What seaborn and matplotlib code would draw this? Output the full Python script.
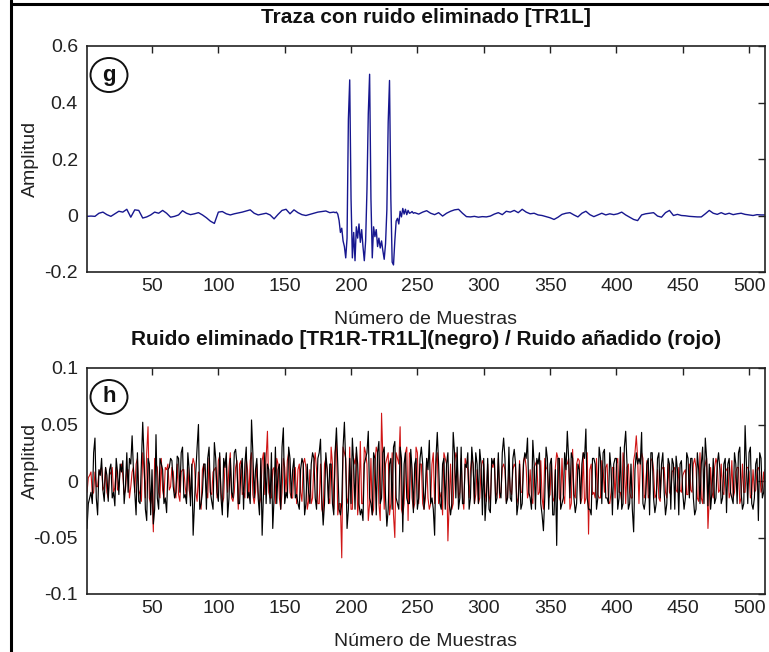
import numpy as np
import pandas as pd
import matplotlib
matplotlib.use("Agg")
import matplotlib.pyplot as plt
import seaborn as sns
from matplotlib.patches import Ellipse
from matplotlib.lines import Line2D

# ---------------- data (amplitudes in thousandths) ----------------
left_samples = list(range(1, 188, 3))
left_milli = [-3, -2, -3, 8, 12, 3, -3, 6, 15, 12, 22, -6, 20, 18, -9, -5, 2, 12, 8, 18,
              8, -6, -3, 2, 17, 8, 3, 6, 10, 2, -8, -20, -28, 12, 14, 6, 2, 6, 9, 12,
              16, 20, 8, 2, 5, 8, 2, -12, 4, 18, 22, 6, 20, 10, 3, 0, 4, 8, 12, 14,
              16, 10, 12]
burst_samples = list(range(188, 248))
burst_milli = [10, 12, 5, -18, -60, -45, -90, -110, -150, -80, 340, 480, 60, -150, -60, -160, -40, -80, -30, -95,
               -50, -110, -160, -90, 90, 360, 500, 60, -150, -40, -75, -50, -110, -80, -115, -90, -125, -155, -100, 20,
               330, 478, 60, -165, -175, -90, -20, -10, -30, 15, -5, 25, 5, 22, 3, 18, 8, 10, 14, 8]
right_samples = list(range(248, 513, 3))
right_milli = [10, 5, 12, 17, 8, 3, 10, -2, 8, 15, 20, 22, 8, -4, -5, -3, -6, -4, -5, -2,
               5, 10, 3, 15, 12, 18, 10, 22, 12, 6, 8, 2, 0, -4, -8, -14, -6, 4, 8, 10,
               2, -5, 8, 15, 3, -4, 2, 8, 2, 6, 3, 6, 12, 2, -6, -14, -18, 2, 6, 8,
               10, -2, -6, 10, 18, 0, 4, 0, -1, -3, -4, -5, -5, 6, 18, 8, 4, 10, 4, 8,
               3, 6, 8, 4, 2, 0, 3, 2, 2]

odd_samples = list(range(1, 512, 2))
even_samples = list(range(2, 513, 2))
black_odd_milli = [
    -42, -15, -20, 38, -30, 5, -8, 12, -18, 15, -10, 20, -12, 8, -20, 25,
    20, 40, -10, 25, -20, 52, -25, 20, -30, -38, 41, -25, 15, -20, -28, 12,
    18, -15, 22, -10, 30, -12, 25, -22, -48, 8, 50, -20, 15, -25, 30, -18,
    34, -10, 25, -30, 12, -32, 20, -15, 28, -20, 10, -25, 30, -10, 54, -15,
    20, -30, -48, 25, 15, -20, -42, 30, 10, -25, 47, -10, 30, -15, 20, -12,
    -25, 20, -30, 15, -20, 25, -15, 20, 37, -39, 25, -20, 15, -30, 47, -25,
    -20, 52, -42, 20, 38, -25, 15, -30, -35, 20, 44, -20, 25, -30, 35, -15,
    30, -40, 15, -25, 35, -20, 30, -45, 25, -20, 28, -28, 20, -15, 30, -25,
    20, 36, -15, -48, 43, -20, 15, -25, 25, -30, 43, -15, -25, 30, -20, 12,
    -25, 30, -20, 15, 28, -30, -35, 20, -28, 15, -20, 25, -15, 38, -20, 30,
    -18, 28, -30, 15, -20, 25, 38, -15, 36, -25, 15, -20, -44, 30, -25, 20,
    -30, -57, 20, -20, 25, 44, -15, 20, -28, 15, -20, 25, 46, -25, -30, 20,
    -25, 30, -20, 28, -15, 25, -30, 20, -25, 30, -20, 44, -25, 15, -45, 25,
    20, 43, -25, 15, -30, 25, -28, 20, -15, 25, -30, 20, -25, 15, 22, -30,
    18, -25, 25, -15, 20, -30, 25, -20, 30, 38, -22, -25, 20, -15, 25, -20,
    15, -28, 20, -15, 25, -20, 30, -25, 49, -20, 30, -25, 15, -35, 20, -10]
black_even_milli = [
    -20, -10, 25, -15, 10, 20, -18, 5, 10, -15, -22, 8, 15, 18, -5, -10,
    15, 10, -30, -18, 15, 20, -35, 15, 10, -25, -15, 20, 10, -15, 10, 20,
    -5, -10, 20, 25, -15, -20, 10, 15, -20, 30, -25, -10, 15, 20, -10, -25,
    20, -18, -15, 20, 25, -15, -10, 25, 15, -20, 20, 15, -15, -20, 25, 10,
    -15, 20, -10, -20, 10, 25, -15, -20, 15, 30, -20, -15, 20, 10, -15, -20,
    10, 15, -20, -10, 15, 20, -25, 25, -15, -20, 10, 15, -20, 25, 15, -30,
    30, 15, -25, -20, 15, 30, -20, -25, 15, 25, -15, -30, 20, 25, -20, 25,
    -15, -25, 20, 30, -15, -25, 20, 15, -15, -20, 10, 15, -25, 20, 15, -10,
    10, -20, -25, 20, 15, -25, 20, 15, -20, -20, 25, 30, -15, -20, 15, 25,
    -15, 15, 25, -20, 15, 20, -15, -25, 20, 20, -15, -10, 25, 20, -15, -15,
    20, 15, -20, -25, 15, 20, -10, -25, 15, 20, 25, -30, -15, 20, 15, -30,
    10, 20, -25, -15, 10, 20, 25, -15, -20, 10, 15, 20, -15, -25, 20, 15,
    -15, 20, 25, -15, -20, 10, 15, 20, -15, -25, 30, 15, -20, -25, 10, 15,
    15, -20, -15, 20, 25, -15, -20, 25, 15, -10, -20, 15, 20, -25, 10, 15,
    -10, -15, 20, 20, -15, -25, 10, 15, -20, 20, 15, -10, -20, 15, 10, -15,
    20, 15, -10, -20, 15, 25, -10, -20, 15, 25, -20, -15, 20, 25, -15, 10]
red_odd_milli = [
    -10, 5, -12, 8, -5, 10, -8, 12, -15, 6, -10, 12, -5, 15, -12, 10,
    -15, 8, -10, 20, -12, 25, -15, 48, -20, -45, 15, -10, 20, -15, 10, -8,
    12, -10, 15, -18, 10, -5, 12, -15, 20, -10, 8, -25, 15, -10, 20, -12,
    10, -15, 22, -20, 15, -10, 25, -18, 12, -25, 18, -10, 20, -15, 25, -20,
    15, -20, 18, -12, 44, -15, 10, -20, 15, -25, 20, -10, 25, -15, 10, -20,
    15, -18, 20, -25, 10, -15, 25, -20, 15, -30, 20, -15, 30, -25, 35, -20,
    -68, 25, -20, 30, -25, 15, -30, 35, -20, 25, -35, 20, -25, 30, -20, 60,
    -25, 20, -30, 25, -50, 20, 48, -30, 25, -35, 20, -25, 30, -20, 15, -25,
    20, -25, 15, -20, 25, -15, -30, 20, -53, 15, -20, 25, -15, 20, -25, 15,
    -15, 20, -20, 10, -15, 18, -10, 15, -20, 12, -15, 20, -10, 15, -18, 12,
    -12, 15, -20, 18, -10, 22, -15, 10, -20, 15, -12, 18, -25, 12, -15, 20,
    -18, 25, -15, 20, -20, 15, -25, 28, -15, 20, -20, 25, -15, -47, 15, -10,
    20, -15, 18, -10, 15, -20, 12, -15, 20, -10, 25, -20, 15, -15, 18, 40,
    -20, 25, -15, 18, -12, 20, -15, 10, -18, 12, -10, 15, -12, 10, -8, 12,
    -10, 8, -12, 15, -10, 20, -15, 25, -20, 15, -42, 12, -15, 20, -10, 15,
    -12, 10, -15, 18, -10, 12, -20, 15, -10, 12, -15, 10, -8, 12, -10, 8]
red_even_milli = [
    3, 8, -10, -5, 8, 12, -5, -10, 8, 12, -6, -8, 10, 5, -8, 10,
    -5, 12, 15, -8, -18, 10, 25, -15, -10, 20, 12, -15, -8, 12, 15, -5,
    8, -15, -12, 8, 10, -15, -8, 12, 15, -18, -20, 10, 8, -15, -10, 8,
    12, 18, -10, -15, 20, 12, -15, -10, 18, 15, -12, -15, 10, 18, -12, -10,
    -10, -15, 25, 20, -10, -15, 12, 20, -15, -10, 12, 18, -10, -15, 12, 10,
    -10, 15, 12, -18, -20, 15, 10, -20, -25, 15, 10, -20, 15, 25, -30, -20,
    30, 20, -15, -25, 20, 25, -15, -20, 30, 15, -20, -30, 15, 25, -35, 20,
    15, 25, -20, -30, 25, 15, -25, -20, 30, 25, -15, -20, 25, 15, -20, -15,
    -15, -20, 25, 15, -20, -10, 25, 15, -20, -25, 15, 20, -10, -15, 20, 10,
    10, 15, -12, -20, 10, 15, -18, -12, 15, 20, -10, -15, 12, 10, -15, -8,
    10, 12, -15, -10, 18, 12, -10, -15, 12, 18, -10, -15, 20, 10, -12, -15,
    12, 20, -18, -12, 15, 20, -20, -12, 15, 18, -15, -20, 25, 10, -12, -15,
    -12, -15, 10, 12, -18, -10, 12, 15, -10, -18, 15, 12, -10, -15, 25, 20,
    15, 20, -12, -15, 18, 10, -12, -15, 10, 12, -15, -10, 8, 12, -10, -8,
    5, 10, -12, -8, 15, 12, -18, -15, 10, 20, -15, -10, 12, 15, -8, -10,
    8, 12, -10, -15, 8, 12, -15, -10, 12, 8, -12, -10, 10, 8, -6, -5]

x_ticks = [50, 100, 150, 200, 250, 300, 350, 400, 450, 500]
top_yticks = [-0.2, 0, 0.2, 0.4, 0.6]
top_yticklabels = ["-0.2", "0", "0.2", "0.4", "0.6"]
bot_yticks = [-0.1, -0.05, 0, 0.05, 0.1]
bot_yticklabels = ["-0.1", "-0.05", "0", "0.05", "0.1"]

title_top = "Traza con ruido eliminado [TR1L]"
title_bot = "Ruido eliminado [TR1R-TR1L](negro) / Ruido añadido (rojo)"
xlabel = "Número de Muestras"
ylabel = "Amplitud"

# ---------------- frames ----------------
top_df = pd.DataFrame({
    "sample": left_samples + burst_samples + right_samples,
    "amp": np.array(left_milli + burst_milli + right_milli) / 1000.0,
})
noise_df = pd.DataFrame({
    "sample": odd_samples + even_samples,
    "black": np.array(black_odd_milli + black_even_milli) / 1000.0,
    "red": np.array(red_odd_milli + red_even_milli) / 1000.0,
}).sort_values("sample").reset_index(drop=True)

# ---------------- style ----------------
sns.set_style("white")
plt.rcParams["font.family"] = ["Liberation Sans", "DejaVu Sans"]

W, H = 769, 652
fig = plt.figure(figsize=(W / 100, H / 100), dpi=100)
fig.patch.set_facecolor("white")

def fx(px):
    return px / W

def fy(py):
    return 1 - py / H

ax1 = fig.add_axes([fx(87), fy(272), fx(765) - fx(87), fy(46) - fy(272)])
ax2 = fig.add_axes([fx(87), fy(594), fx(765) - fx(87), fy(368) - fy(594)])

sns.lineplot(data=top_df, x="sample", y="amp", ax=ax1, color="#17178f",
             linewidth=1.0, estimator=None, sort=False)
sns.lineplot(data=noise_df, x="sample", y="red", ax=ax2, color="#d01515",
             linewidth=0.8, estimator=None, sort=False)
sns.lineplot(data=noise_df, x="sample", y="black", ax=ax2, color="#000000",
             linewidth=0.85, estimator=None, sort=False)

for ax, yt, ytl, ylim, title, ylab_y in [
        (ax1, top_yticks, top_yticklabels, (-0.2, 0.6), title_top, 0.5),
        (ax2, bot_yticks, bot_yticklabels, (-0.1, 0.1), title_bot, 0.59)]:
    ax.set_xlim(1, 512)
    ax.set_ylim(*ylim)
    ax.set_xticks(x_ticks)
    ax.set_xticklabels([str(t) for t in x_ticks])
    ax.set_yticks(yt)
    ax.set_yticklabels(ytl)
    ax.tick_params(axis="both", direction="in", length=5, width=1.0,
                   colors="#222222", labelsize=14, top=True, right=True)
    ax.tick_params(axis="x", pad=4.5)
    ax.tick_params(axis="y", pad=6.5)
    for sp in ax.spines.values():
        sp.set_visible(True)
        sp.set_color("#222222")
        sp.set_linewidth(1.2)
    ax.set_xlabel(xlabel, fontsize=14, color="#222222")
    ax.xaxis.set_label_coords(0.5, -0.21)
    ax.xaxis.label.set_va("center")
    ax.set_ylabel(ylabel, fontsize=14, color="#222222")
    ax.yaxis.set_label_coords(-0.084, ylab_y)
    ax.yaxis.label.set_va("center")
    ax.text(0.5, 1.125, title, transform=ax.transAxes, ha="center", va="center",
            fontsize=15, fontweight="bold", color="#111111")

# circled panel letters
for cy, letter in [(75, "g"), (397, "h")]:
    fig.add_artist(Ellipse((fx(109), fy(cy)), fx(37), 34 / H, transform=fig.transFigure,
                           facecolor="white", edgecolor="#111111", linewidth=1.4))
    fig.text(fx(109), fy(cy), letter, ha="center", va="center", fontsize=16,
             fontweight="bold", color="#111111")

# outer frame (left and top)
fig.add_artist(Line2D([fx(11), fx(11)], [0, 1], transform=fig.transFigure,
                      color="black", linewidth=2.2))
fig.add_artist(Line2D([fx(11), 1], [fy(4), fy(4)], transform=fig.transFigure,
                      color="black", linewidth=2.2))

fig.savefig("out.png", dpi=100)
